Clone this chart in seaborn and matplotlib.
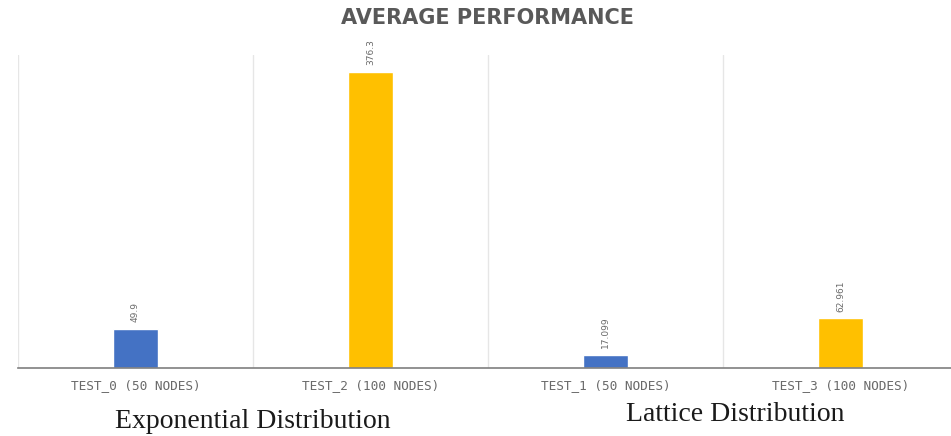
import matplotlib
matplotlib.use("Agg")
import matplotlib.pyplot as plt
import seaborn as sns
import pandas as pd

# Average performance per test run
categories = ["TEST_0 (50 NODES)", "TEST_2 (100 NODES)", "TEST_1 (50 NODES)", "TEST_3 (100 NODES)"]
values = [49.9, 376.3, 17.099, 62.961]
value_labels = ["49.9", "376.3", "17.099", "62.961"]
colors = ["#4472C4", "#FFC000", "#4472C4", "#FFC000"]
group_names = ["Exponential Distribution", "Lattice Distribution"]

sns.set_theme(style="white")

df = pd.DataFrame({"test": categories, "avg": values})

W, H = 951, 436
fig = plt.figure(figsize=(W / 100, H / 100), dpi=100)
ax = fig.add_axes([18 / W, (H - 368) / H, 940 / W, (368 - 55) / H])

sns.barplot(data=df, x="test", y="avg", hue="test", palette=dict(zip(categories, colors)),
            width=0.19, dodge=False, legend=False, ax=ax, saturation=1)

ax.set_ylim(0, 398)
ax.set_xlim(-0.5, 3.5)

# category separators
for b in [-0.5, 0.5, 1.5, 2.5, 3.5]:
    ax.axvline(b, color="#e6e6e6", lw=1, zorder=0)

for s in ["top", "right", "left"]:
    ax.spines[s].set_visible(False)
ax.spines["bottom"].set_color("#7f7f7f")
ax.spines["bottom"].set_linewidth(1.2)

ax.set_yticks([])
ax.set_xlabel("")
ax.set_ylabel("")
ax.tick_params(axis="x", length=0, pad=8)
for lbl in ax.get_xticklabels():
    lbl.set_fontfamily("DejaVu Sans Mono")
    lbl.set_fontsize(9.2)
    lbl.set_color("#6a6a6a")

for i, (v, t) in enumerate(zip(values, value_labels)):
    ax.annotate(t, (i, v), xytext=(0, 5), textcoords="offset points",
                rotation=90, ha="center", va="bottom", fontsize=6.5, color="#6a6a6a")

fig.text(487 / W, 1 - 18 / H, "AVERAGE PERFORMANCE", ha="center", va="center",
         fontsize=15, fontweight="bold", color="#595959", family="DejaVu Sans")

fig.text(253 / W, 1 - 421 / H, group_names[0], ha="center", va="center",
         fontsize=20, color="#1a1a1a", family="Liberation Serif")
fig.text(735 / W, 1 - 414 / H, group_names[1], ha="center", va="center",
         fontsize=20, color="#1a1a1a", family="Liberation Serif")

fig.savefig("out.png", dpi=100)
